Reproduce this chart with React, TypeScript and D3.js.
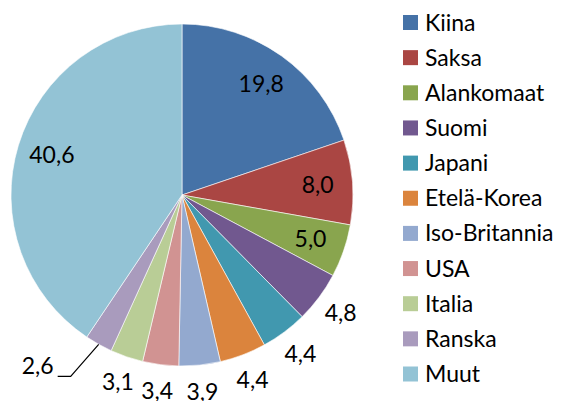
import React from "react";
import * as d3 from "d3";

const categories = ["Kiina", "Saksa", "Alankomaat", "Suomi", "Japani", "Etelä-Korea", "Iso-Britannia", "USA", "Italia", "Ranska", "Muut"];
const values = [19.8, 8.0, 5.0, 4.8, 4.4, 4.4, 3.9, 3.4, 3.1, 2.6, 40.6];
const colors = ["#4572A7", "#AA4643", "#89A54E", "#71588F", "#4198AF", "#DB843D", "#93A9CF", "#D19392", "#B9CD96", "#A99BBD", "#93C3D5"];
const insideLabels = ["Kiina", "Saksa", "Alankomaat", "Muut"];
const leaderLabels = ["Ranska"];

const W = 563;
const H = 401;
const CX = 182;
const CY = 195;
const R = 171;
const FONT = "Lato, 'Open Sans', sans-serif";

export default function App() {
  const pie = d3.pie<number>().value((d) => d).sort(null);
  const arcs = pie(values);
  const arcGen = d3.arc<d3.PieArcDatum<number>>().innerRadius(0).outerRadius(R);
  const fmt = (v: number) => v.toFixed(1).replace(".", ",");
  const legendY = d3.scalePoint<string>().domain(categories).range([22.5, 374]);

  return (
    <svg width={W} height={H} style={{ position: "absolute", left: 0, top: 0, background: "#fff" }}>
      <g transform={`translate(${CX},${CY})`}>
        {arcs.map((a, i) => (
          <path key={i} d={arcGen(a) || ""} fill={colors[i]} stroke="#fff" strokeWidth={0.6} />
        ))}
        {arcs.map((a, i) => {
          const mid = (a.startAngle + a.endAngle) / 2;
          const sx = Math.sin(mid);
          const sy = -Math.cos(mid);
          const name = categories[i];
          if (insideLabels.includes(name)) {
            const rr = 136;
            return (
              <text key={"l" + i} x={rr * sx} y={rr * sy + 8} textAnchor="middle" fontFamily={FONT} fontSize={23} fill="#000">
                {fmt(values[i])}
              </text>
            );
          }
          if (leaderLabels.includes(name)) {
            const ex = R * sx;
            const ey = R * sy;
            const elx = ex - 28;
            const ely = ey + 32;
            const endx = elx - 13;
            return (
              <g key={"l" + i}>
                <polyline points={`${ex},${ey} ${elx},${ely} ${endx},${ely}`} fill="none" stroke="#000" strokeWidth={1.2} />
                <text x={endx - 4} y={ely - 2} textAnchor="end" fontFamily={FONT} fontSize={23} fill="#000">
                  {fmt(values[i])}
                </text>
              </g>
            );
          }
          const ro = 198;
          return (
            <text key={"l" + i} x={ro * sx} y={ro * sy + 8} textAnchor="middle" fontFamily={FONT} fontSize={23} fill="#000">
              {fmt(values[i])}
            </text>
          );
        })}
      </g>
      <g>
        {categories.map((c, i) => {
          const y = legendY(c) as number;
          return (
            <g key={c}>
              <rect x={403} y={y - 7.5} width={15} height={15} fill={colors[i]} />
              <text x={425} y={y + 8} fontFamily={FONT} fontSize={23} fill="#000">
                {c}
              </text>
            </g>
          );
        })}
      </g>
    </svg>
  );
}
